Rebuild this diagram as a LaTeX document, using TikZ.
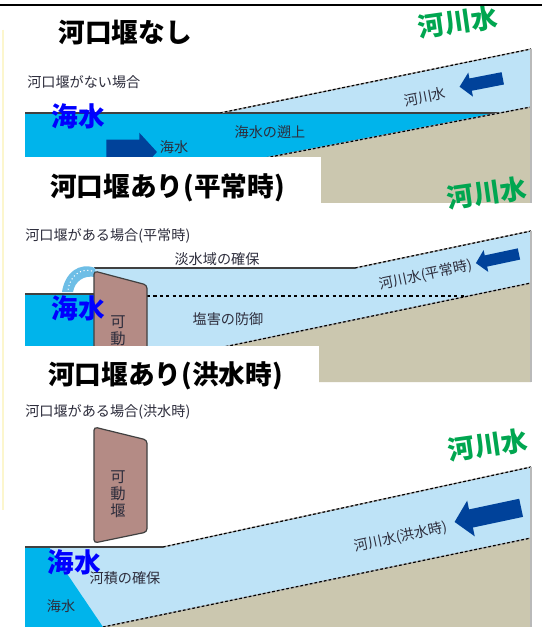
\documentclass[tikz,border=0pt]{standalone}
\usepackage{fontspec}
\newfontfamily\jp{Noto Sans CJK JP}
\usetikzlibrary{shapes.arrows}

\definecolor{sea}{RGB}{0,180,235}
\definecolor{river}{RGB}{190,227,247}
\definecolor{bedc}{RGB}{203,199,175}
\definecolor{weirc}{RGB}{180,139,133}
\definecolor{flow}{RGB}{0,66,154}
\definecolor{greenlbl}{RGB}{0,166,80}
\definecolor{notec}{RGB}{45,45,60}
\definecolor{spill}{RGB}{110,190,230}
\definecolor{faint}{RGB}{252,246,205}

\tikzset{
  bigtitle/.style={font=\jp\bfseries\fontsize{20pt}{22pt}\selectfont, inner sep=0pt},
  riverlbl/.style={font=\jp\bfseries\fontsize{20pt}{22pt}\selectfont, text=greenlbl, rotate=8, inner sep=0pt},
  sealbl/.style={font=\jp\bfseries\fontsize{20pt}{22pt}\selectfont, text=blue, inner sep=0pt},
  note/.style={font=\jp\fontsize{10.6pt}{12pt}\selectfont, text=notec, inner sep=0pt},
  weirtext/.style={font=\jp\fontsize{11.5pt}{12.75pt}\selectfont, text=notec, inner sep=0pt, align=center},
  dashedge/.style={draw=gray!60, line width=1pt,
    postaction={draw=black, line width=0.9pt, dash pattern=on 2pt off 1.6pt}},
  solidedge/.style={draw=black!75, line width=1pt},
  rightedge/.style={draw=gray!55, line width=0.8pt},
  weirbody/.style={fill=weirc, draw=black!75, line width=0.9pt, rounded corners=2.5pt},
  flowarrow/.style={single arrow, fill=flow, draw=none, inner xsep=0pt,
    single arrow tip angle=95, single arrow head indent=0pt},
  titlemask/.style={fill=white, draw=none}
}

\begin{document}
\begin{tikzpicture}[x=0.75pt,y=-0.75pt]
\useasboundingbox (0,0) rectangle (542,627);
\fill[white] (0,0) rectangle (542,627);

% ---------------- without a barrage ----------------
\fill[bedc] (30,203) -- (531,107) -- (531,203) -- cycle;
\fill[sea] (25,113) -- (499,113) -- (30,203) -- (25,203) -- cycle;
\fill[river] (220,113) -- (531,49) -- (531,107) -- (499,113) -- cycle;
\draw[solidedge] (25,113) -- (499,113);
\draw[dashedge] (220,113) -- (531,49);
\draw[dashedge] (30,203) -- (531,107);
\draw[rightedge] (531,49) -- (531,203);

\node[flowarrow, minimum height=38pt, inner ysep=9pt, single arrow head extend=5.25pt] (inflow1) at (126,152) {};
\node[flowarrow, minimum height=33pt, inner ysep=4.5pt, single arrow head extend=4.5pt, rotate=191] (riverflow1) at (484,82) {};

\node[bigtitle] (title1) at (125,33) {河口堰なし};
\node[riverlbl] (rw1) at (458,22) {河川水};
\node[note, anchor=west] (case1) at (27,82) {河口堰がない場合};
\node[sealbl] (sw1) at (78,116) {海水};
\node[note] (seanote1) at (174,147) {海水};
\node[note] (upstream1) at (270,132) {海水の遡上};
\node[note, rotate=11] (rivernote1) at (425,97) {河川水};

% ---------------- with a barrage, normal flow ----------------
\fill[titlemask] (0,157) rectangle (321,205);
\node[bigtitle, anchor=west] (title2) at (50,188) {河口堰あり(平常時)};
\node[riverlbl] (rw2) at (487,193) {河川水};

\fill[bedc] (94,374) -- (531,283) -- (531,382) -- (94,382) -- cycle;
\fill[river] (94,268) -- (355,268) -- (531,231) -- (531,283) -- (94,374) -- cycle;
\fill[sea] (25,294) -- (94,294) -- (94,382) -- (25,382) -- cycle;
\draw[solidedge] (25,294) -- (94,294);
\draw[solidedge] (94,268) -- (355,268);
\draw[dashedge] (355,268) -- (531,231);
\draw[dashedge] (94,374) -- (531,283);
\draw[black, line width=0.9pt, dash pattern=on 2.4pt off 2.4pt] (147,296) -- (466,296);
\draw[rightedge] (531,231) -- (531,382);

% water spilling over the gate
\fill[spill] (95,268) .. controls (80,262) and (65,272) .. (62,292)
  -- (73,292) .. controls (75,281) and (84,275) .. (95,277) -- cycle;
\draw[white, line width=0.8pt, dash pattern=on 0.8pt off 2pt] (92,271) .. controls (80,268) and (70,276) .. (68,290);

\draw[weirbody] (94,271) -- (147,285) -- (147,380) -- (94,380) -- cycle;
\node[weirtext] (gate2) at (118,331) {可\\動};

\node[flowarrow, minimum height=33pt, inner ysep=4.1pt, single arrow head extend=4.1pt, rotate=192] (riverflow2) at (500,258) {};
\node[note, anchor=west] (case2) at (25,236) {河口堰がある場合(平常時)};
\node[sealbl] (sw2) at (78,308) {海水};
\node[note] (fresh2) at (217,259) {淡水域の確保};
\node[note] (salt2) at (228,319) {塩害の防御};
\node[note, rotate=12] (rivernote2) at (426,275) {河川水(平常時)};

% ---------------- with a barrage, flood ----------------
\fill[titlemask] (0,346) rectangle (319,383);
\node[bigtitle, anchor=west] (title3) at (48,376) {河口堰あり(洪水時)};

\fill[river] (25,547) -- (163,547) -- (531,467) -- (531,538) -- (103,627) -- (25,627) -- cycle;
\fill[sea] (25,547) -- (49,547) -- (103,627) -- (25,627) -- cycle;
\fill[bedc] (103,627) -- (531,538) -- (531,627) -- cycle;
\draw[solidedge] (25,547) -- (163,547);
\draw[dashedge] (163,547) -- (531,467);
\draw[dashedge] (103,627) -- (531,538);
\draw[rightedge] (531,467) -- (531,627);

\draw[weirbody] (94,427) -- (147,440) -- (147,532) -- (94,543) -- cycle;
\node[weirtext] (gate3) at (118,494) {可\\動\\堰};

\node[flowarrow, minimum height=51pt, inner ysep=6.75pt, single arrow head extend=6.75pt, rotate=192] (riverflow3) at (492,514) {};
\node[note, anchor=west] (case3) at (25,412) {河口堰がある場合(洪水時)};
\node[riverlbl] (rw3) at (488,445) {河川水};
\node[note] (area3) at (125,578) {河積の確保};
\node[sealbl] (sw3) at (74,562) {海水};
\node[note] (seanote3) at (61,606) {海水};
\node[note, rotate=12] (rivernote3) at (401,537) {河川水(洪水時)};

% frame lines
\draw[black, line width=1.8pt] (0,5) -- (542,5);
\draw[faint, line width=1pt] (3,30) -- (3,510);
\end{tikzpicture}
\end{document}
